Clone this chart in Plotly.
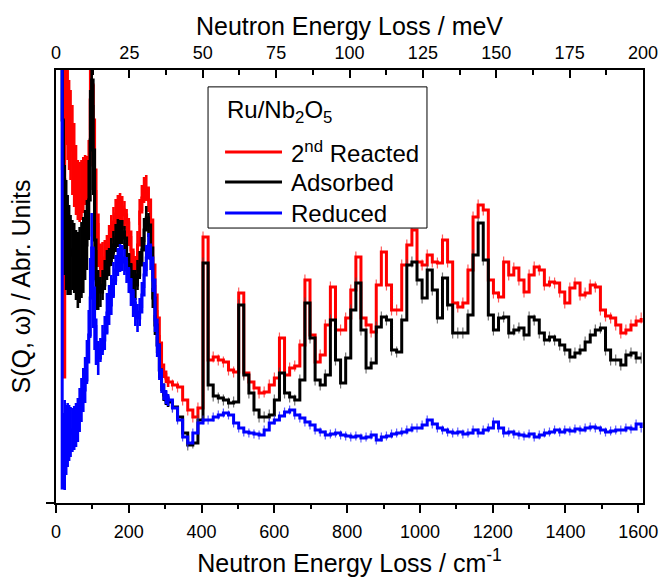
import plotly.graph_objects as go

# Energy transfer grid (cm^-1): fine bins at low energy, 14 cm^-1 bins above 320 cm^-1
wavenumber_low = [8, 11, 14, 17, 20, 24, 28, 32, 36, 40, 45, 50, 55, 60, 65, 70, 75, 80, 85, 90,
                  94, 98, 102, 106, 110, 116, 122, 128, 134, 140, 146, 152, 158, 164, 170, 176,
                  182, 188, 194, 200, 206, 212, 218, 224, 230, 236, 242, 248, 254, 260, 266, 272,
                  278, 284, 290, 296, 302, 308]
wavenumber_high = list(range(320, 1609, 14))

# 2nd Reacted
reacted_low = [6.0, 6.0, 6.0, 5.0, 1.26, 4.08, 3.98, 3.88, 3.78, 3.68, 3.53, 3.38, 3.23, 3.13, 3.11,
               3.13, 3.18, 3.23, 3.25, 3.38, 4.03, 4.18, 3.83, 3.33, 2.88, 2.58, 2.35, 2.41, 2.45,
               2.53, 2.63, 2.73, 2.81, 2.89, 2.93, 2.96, 2.93, 2.88, 2.80, 2.71, 2.53, 2.38, 2.33,
               2.58, 2.91, 3.05, 3.13, 3.15, 3.03, 2.83, 2.38, 2.08, 1.85, 1.60, 1.38, 1.31, 1.25, 1.21]
reacted_low_err = [0, 0, 0, 0, 0, 0.40, 0.40, 0.45, 0.45, 0.45, 0.45, 0.42, 0.35, 0.30, 0.30,
                   0.30, 0.28, 0.25, 0.22, 0.25, 0.30, 0.15, 0.35, 0.35, 0.25, 0.22, 0.22, 0.20, 0.18,
                   0.15, 0.15, 0.15, 0.15, 0.15, 0.15, 0.14, 0.14, 0.14, 0.14, 0.14, 0.14, 0.14, 0.14,
                   0.14, 0.13, 0.13, 0.13, 0.13, 0.12, 0.12, 0.10, 0.10, 0.08, 0.08, 0.06, 0.06, 0.05, 0.05]
reacted_high = [1.18, 1.16, 1.03, 0.93, 0.86, 0.95, 2.66, 1.43, 1.46, 1.43,
                1.41, 1.33, 1.31, 2.10, 1.30, 1.21, 1.15, 1.10, 1.11, 1.18,
                1.25, 1.65, 1.28, 1.35, 1.37, 1.58, 2.23, 1.68, 1.41, 1.48,
                1.78, 2.16, 1.73, 1.73, 1.85, 2.13, 2.46, 1.85, 1.78, 1.71,
                2.18, 2.51, 2.18, 1.93, 1.93, 2.38, 2.58, 2.73, 2.41, 2.38,
                2.48, 2.41, 2.40, 2.63, 2.41, 2.00, 1.96, 2.00, 2.33, 2.86,
                2.98, 2.93, 2.23, 2.10, 2.06, 2.41, 2.28, 2.35, 2.23, 2.11,
                2.28, 2.36, 2.33, 2.18, 2.21, 2.20, 2.11, 2.00, 2.15, 2.20,
                2.08, 2.10, 2.18, 2.16, 1.93, 1.87, 1.85, 1.78, 1.70, 1.73,
                1.78, 1.82, 1.85]
reacted_high_err = 0.055

# Adsorbed
adsorbed_low = [6.0, 6.0, 6.0, 3.83, 3.23, 2.83, 2.68, 2.58, 2.53, 2.48, 2.48, 2.45, 2.38, 2.33, 2.38,
                2.43, 2.48, 2.58, 2.68, 3.03, 3.63, 4.23, 3.53, 2.63, 2.23, 2.13, 2.11, 2.18, 2.28,
                2.38, 2.41, 2.51, 2.58, 2.65, 2.70, 2.71, 2.71, 2.65, 2.48, 2.38, 2.25, 2.18, 2.18,
                2.28, 2.38, 2.53, 2.73, 2.85, 2.78, 2.55, 2.05, 1.78, 1.58, 1.33, 1.18, 1.08, 1.03, 1.01]
adsorbed_low_err = [0, 0, 0, 0.50, 0.60, 0.55, 0.55, 0.50, 0.45, 0.40, 0.35, 0.35, 0.35, 0.38, 0.38,
                    0.38, 0.38, 0.35, 0.35, 0.40, 0.50, 0.15, 0.45, 0.40, 0.30, 0.20, 0.15, 0.15, 0.15,
                    0.15, 0.14, 0.14, 0.14, 0.14, 0.14, 0.12, 0.12, 0.12, 0.12, 0.12, 0.15, 0.15, 0.15,
                    0.15, 0.14, 0.13, 0.12, 0.12, 0.12, 0.12, 0.10, 0.10, 0.08, 0.08, 0.06, 0.06, 0.05, 0.05]
adsorbed_high = [0.96, 0.86, 0.70, 0.58, 0.60, 0.83, 2.40, 1.18, 1.07, 1.05,
                 1.03, 1.00, 1.01, 1.98, 1.28, 1.10, 0.93, 0.86, 0.86, 0.88,
                 1.03, 1.30, 1.10, 1.06, 1.03, 1.23, 2.00, 1.65, 1.23, 1.18,
                 1.28, 1.83, 1.43, 1.20, 1.45, 1.93, 2.20, 1.73, 1.35, 1.40,
                 1.76, 1.86, 1.83, 1.53, 1.51, 1.83, 2.38, 2.41, 2.23, 2.05,
                 2.33, 2.13, 1.85, 2.25, 1.98, 1.70, 1.70, 1.70, 1.88, 2.48,
                 2.80, 2.43, 1.88, 1.73, 1.85, 1.86, 1.70, 1.73, 1.75, 1.68,
                 1.86, 1.83, 1.70, 1.63, 1.66, 1.63, 1.58, 1.53, 1.46, 1.50,
                 1.53, 1.61, 1.68, 1.73, 1.75, 1.53, 1.43, 1.43, 1.38, 1.48,
                 1.50, 1.45, 1.45]
adsorbed_high_err = 0.055

# Reduced
reduced_low = [6.0, 6.0, 6.0, 0.15, 0.55, 0.58, 0.63, 0.68, 0.70, 0.71, 0.73, 0.75, 0.78, 0.83, 0.93,
               1.03, 1.13, 1.23, 1.41, 1.68, 2.05, 2.55, 2.15, 1.83, 1.58, 1.45, 1.53, 1.63, 1.70,
               1.90, 1.98, 2.08, 2.23, 2.33, 2.41, 2.45, 2.45, 2.41, 2.33, 2.23, 2.11, 2.00, 1.91,
               1.85, 1.91, 2.08, 2.28, 2.45, 2.58, 2.45, 2.23, 1.83, 1.58, 1.33, 1.18, 1.11, 1.06, 1.03]
reduced_low_err = [0, 0, 0, 0, 0.35, 0.45, 0.35, 0.32, 0.28, 0.25, 0.22, 0.22, 0.22, 0.22, 0.22,
                   0.22, 0.22, 0.23, 0.22, 0.25, 0.40, 0.35, 0.40, 0.30, 0.20, 0.17, 0.12, 0.15, 0.17,
                   0.20, 0.20, 0.20, 0.18, 0.15, 0.14, 0.14, 0.13, 0.13, 0.13, 0.13, 0.14, 0.14, 0.14,
                   0.14, 0.14, 0.13, 0.13, 0.13, 0.12, 0.12, 0.12, 0.12, 0.12, 0.10, 0.08, 0.08, 0.07, 0.06]
reduced_high = [0.95, 0.83, 0.66, 0.60, 0.70, 0.80, 0.83, 0.83, 0.86, 0.88,
                0.90, 0.88, 0.80, 0.75, 0.71, 0.70, 0.69, 0.68, 0.73, 0.80,
                0.83, 0.87, 0.91, 0.93, 0.88, 0.85, 0.81, 0.78, 0.73, 0.71,
                0.68, 0.69, 0.70, 0.68, 0.67, 0.66, 0.67, 0.65, 0.66, 0.68,
                0.63, 0.66, 0.67, 0.69, 0.70, 0.71, 0.73, 0.75, 0.75, 0.78,
                0.83, 0.79, 0.75, 0.73, 0.71, 0.70, 0.71, 0.69, 0.70, 0.73,
                0.70, 0.73, 0.75, 0.81, 0.75, 0.70, 0.71, 0.69, 0.68, 0.67,
                0.69, 0.66, 0.68, 0.70, 0.71, 0.73, 0.71, 0.73, 0.72, 0.74,
                0.73, 0.75, 0.76, 0.75, 0.73, 0.71, 0.72, 0.73, 0.73, 0.75,
                0.74, 0.79, 0.75]
reduced_high_err = 0.045

series_names = ["2<sup>nd</sup> Reacted", "Adsorbed", "Reduced"]
series_colors = ["#ff0000", "#000000", "#0000ff"]
error_colors = ["rgba(255,50,50,0.8)", "rgba(70,70,70,0.75)", "rgba(50,50,255,0.8)"]

FONT = "Arial, 'Liberation Sans', sans-serif"
wavenumber = wavenumber_low + wavenumber_high

fig = go.Figure()

series = [
    (reacted_low, reacted_high, reacted_low_err, reacted_high_err),
    (adsorbed_low, adsorbed_high, adsorbed_low_err, adsorbed_high_err),
    (reduced_low, reduced_high, reduced_low_err, reduced_high_err),
]
for (low, high, elow, ehigh), name, color, ecolor in zip(series, series_names, series_colors, error_colors):
    # dense low-energy bins: wide, solid error bars
    fig.add_trace(go.Scatter(
        x=wavenumber_low, y=low, mode="markers", marker=dict(size=0.1, opacity=0),
        error_y=dict(type="data", array=elow, visible=True, color=color, thickness=2.6, width=0),
        showlegend=False, hoverinfo="skip",
    ))
    # coarse high-energy bins: thin error bars
    fig.add_trace(go.Scatter(
        x=wavenumber_high, y=high, mode="markers", marker=dict(size=0.1, opacity=0),
        error_y=dict(type="data", array=[ehigh] * len(high), visible=True,
                     color=ecolor, thickness=1.2, width=0),
        showlegend=False, hoverinfo="skip",
    ))
    # step histogram of the spectrum
    fig.add_trace(go.Scatter(
        x=wavenumber, y=low + high, name=name, mode="lines",
        line=dict(color=color, width=3, shape="hv"),
        showlegend=False, hoverinfo="skip",
    ))

# Carrier trace for the meV scale on the top axis
fig.add_trace(go.Scatter(x=[0, 200], y=[-1, -1], xaxis="x2", mode="lines",
                         line=dict(width=0), showlegend=False, hoverinfo="skip"))

axis_common = dict(showline=True, linecolor="black", linewidth=2, showgrid=False,
                   zeroline=False, tickcolor="black", tickwidth=2, automargin=False,
                   tickfont=dict(family=FONT, size=18, color="black"))

fig.update_layout(
    width=665, height=577,
    margin=dict(l=56, r=22, t=70, b=74),
    paper_bgcolor="white", plot_bgcolor="white",
    font=dict(family=FONT, color="black"),
    xaxis=dict(range=[0, 1613], ticks="outside", ticklen=8,
               tickvals=[0, 200, 400, 600, 800, 1000, 1200, 1400, 1600],
               minor=dict(ticks="outside", ticklen=4, dtick=100, tickwidth=2, tickcolor="black"),
               ticklabelstandoff=3,
               title=dict(text="Neutron Energy Loss / cm<sup>-1</sup>", font=dict(size=25), standoff=16),
               **axis_common),
    xaxis2=dict(range=[0, 200], overlaying="x", side="top", anchor="y",
                ticks="inside", ticklen=8, dtick=25, tick0=0,
                minor=dict(ticks="inside", ticklen=5, dtick=12.5, tickwidth=2, tickcolor="black"),
                ticklabelstandoff=2,
                title=dict(text="Neutron Energy Loss / meV", font=dict(size=25), standoff=0),
                **axis_common),
    yaxis=dict(range=[0, 4.33], mirror=True, ticks="outside", ticklen=8, tickvals=[0],
               showticklabels=False,
               title=dict(text="S(Q, \u03c9) / Abr. Units", font=dict(size=25), standoff=8),
               **axis_common),
)

# Legend box drawn in paper space
legend_box = dict(x0=0.259, x1=0.632, y0=0.635, y1=0.961)
fig.add_shape(type="rect", xref="paper", yref="paper", line=dict(color="black", width=1),
              fillcolor="white", layer="above", **legend_box)
fig.add_annotation(xref="paper", yref="paper", x=0.288, y=0.905, xanchor="left", yanchor="middle",
                   text="Ru/Nb<sub>2</sub>O<sub>5</sub>", showarrow=False,
                   font=dict(family=FONT, size=24, color="black"))
legend_rows = [0.8106, 0.7413, 0.6697]
for name, color, yrow in zip(series_names, series_colors, legend_rows):
    fig.add_shape(type="line", xref="paper", yref="paper", x0=0.288, x1=0.385, y0=yrow, y1=yrow,
                  line=dict(color=color, width=3), layer="above")
    fig.add_annotation(xref="paper", yref="paper", x=0.397, y=yrow, xanchor="left", yanchor="middle",
                       text=name, showarrow=False, font=dict(family=FONT, size=24, color="black"))

fig.write_html("out.html")
